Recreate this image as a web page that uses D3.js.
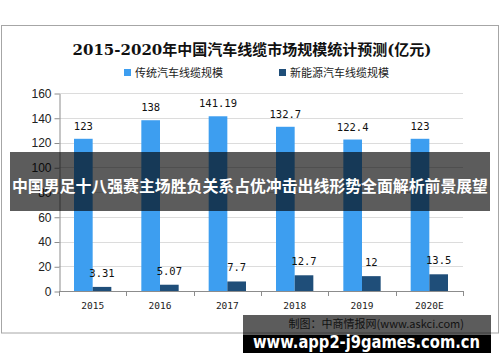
<!DOCTYPE html>
<html>
<head>
<meta charset="utf-8">
<script src="https://d3js.org/d3.v7.min.js"></script>
<style>
  body { margin: 0; background: #fff; }
  svg { display: block; }
  .axis path, .axis line { stroke: #8c8c8c; }
  .axis text { fill: #222; }
</style>
</head>
<body>
<script>
// data
var years = ["2015", "2016", "2017", "2018", "2019", "2020E"];
var traditional = [123, 138, 141.19, 132.7, 122.4, 123];
var newEnergy = [3.31, 5.07, 7.7, 12.7, 12, 13.5];
var seriesNames = ["传统汽车线缆规模", "新能源汽车线缆规模"];
var yTicks = [0, 20, 40, 60, 80, 100, 120, 140, 160];

var colors = ["#3d9ef0", "#1f4e79"];
var width = 500, height = 362;
var plotLeft = 59, plotRight = 463, plotTop = 93, plotBottom = 291;

var svg = d3.select("body").append("svg")
    .attr("width", width)
    .attr("height", height);

// outer frame
svg.append("rect")
    .attr("x", 1.5).attr("y", 25.5)
    .attr("width", 497).attr("height", 307.5)
    .attr("fill", "none").attr("stroke", "#a6a6a6");

// title
svg.append("text")
    .attr("x", 252).attr("y", 55)
    .attr("text-anchor", "middle")
    .style("font-family", "'DejaVu Serif', 'Noto Sans CJK SC', serif")
    .style("font-weight", "bold")
    .style("font-size", "15px")
    .attr("fill", "#111")
    .text("2015-2020年中国汽车线缆市场规模统计预测(亿元)");

// legend
var legendX = [124, 279];
seriesNames.forEach(function (name, i) {
    svg.append("rect")
        .attr("x", legendX[i]).attr("y", 69)
        .attr("width", 7).attr("height", 7)
        .attr("fill", colors[i]);
    svg.append("text")
        .attr("x", legendX[i] + 11).attr("y", 76.5)
        .style("font-family", "'Noto Sans CJK SC', sans-serif")
        .style("font-size", "11px")
        .attr("fill", "#222")
        .text(name);
});

var x = d3.scaleBand().domain(years).range([plotLeft, plotRight]);
var inner = d3.scaleBand().domain([0, 1]).range([15, x.bandwidth() - 15]);
var y = d3.scaleLinear().domain([0, 160]).range([plotBottom, plotTop]);

// gridlines
svg.append("g")
    .selectAll("line")
    .data(yTicks.filter(function (d) { return d > 0; }))
    .enter().append("line")
    .attr("x1", plotLeft).attr("x2", plotRight)
    .attr("y1", function (d) { return Math.round(y(d)) + 0.5; })
    .attr("y2", function (d) { return Math.round(y(d)) + 0.5; })
    .attr("stroke", "#dcdcdc");

// y axis
var yAxis = d3.axisLeft(y).tickValues(yTicks).tickSize(5).tickPadding(3).tickSizeOuter(0);
var gy = svg.append("g")
    .attr("class", "axis")
    .attr("transform", "translate(" + (plotLeft + 0.5) + ",0.5)")
    .call(yAxis);
gy.selectAll("text")
    .style("font-family", "'Liberation Sans', Arial, sans-serif")
    .style("font-size", "12px");

// x axis line and boundary ticks
var gx = svg.append("g").attr("class", "axis");
gx.append("line")
    .attr("x1", plotLeft).attr("x2", plotRight)
    .attr("y1", plotBottom + 0.5).attr("y2", plotBottom + 0.5);
gx.selectAll(".bt")
    .data(years.concat(["end"]))
    .enter().append("line")
    .attr("class", "bt")
    .attr("x1", function (d, i) { return Math.round(plotLeft + i * x.step()) + 0.5; })
    .attr("x2", function (d, i) { return Math.round(plotLeft + i * x.step()) + 0.5; })
    .attr("y1", plotBottom).attr("y2", plotBottom + 5);
gx.selectAll("text")
    .data(years)
    .enter().append("text")
    .attr("x", function (d) { return x(d) + x.bandwidth() / 2; })
    .attr("y", 309)
    .attr("text-anchor", "middle")
    .style("font-family", "'DejaVu Sans Mono', monospace")
    .style("font-size", "9.5px")
    .text(function (d) { return d; });

// bars
var series = [traditional, newEnergy];
series.forEach(function (vals, s) {
    var g = svg.append("g");
    g.selectAll("rect")
        .data(vals)
        .enter().append("rect")
        .attr("x", function (d, i) { return x(years[i]) + inner(s); })
        .attr("width", inner.bandwidth())
        .attr("y", function (d) { return y(d); })
        .attr("height", function (d) { return plotBottom - y(d); })
        .attr("fill", colors[s]);
    g.selectAll("text")
        .data(vals)
        .enter().append("text")
        .attr("x", function (d, i) { return x(years[i]) + inner(s) + inner.bandwidth() / 2; })
        .attr("y", function (d) { return y(d) - (s === 0 ? 9 : 10); })
        .attr("text-anchor", "middle")
        .style("font-family", "'DejaVu Sans Mono', monospace")
        .style("font-size", "10.5px")
        .attr("fill", "#111")
        .text(function (d) { return d; });
});

// overlay banner
svg.append("rect")
    .attr("x", 10).attr("y", 152)
    .attr("width", 480).attr("height", 59)
    .attr("fill", "rgba(0,0,0,0.64)");
svg.append("text")
    .attr("x", 250).attr("y", 192)
    .attr("text-anchor", "middle")
    .attr("textLength", 476)
    .attr("lengthAdjust", "spacingAndGlyphs")
    .style("font-family", "'Noto Sans CJK SC', sans-serif")
    .style("font-weight", "bold")
    .style("font-size", "16px")
    .attr("fill", "#fff")
    .text("中国男足十八强赛主场胜负关系占优冲击出线形势全面解析前景展望");

// bottom caption bands
svg.append("rect")
    .attr("x", 243).attr("y", 315)
    .attr("width", 248).attr("height", 21)
    .attr("fill", "rgba(0,0,0,0.64)");
svg.append("text")
    .attr("x", 464).attr("y", 328)
    .attr("text-anchor", "end")
    .style("font-family", "'Noto Sans CJK SC', sans-serif")
    .style("font-size", "11px")
    .attr("fill", "#111")
    .text("制图：中商情报网(www.askci.com)");
svg.append("rect")
    .attr("x", 243).attr("y", 335)
    .attr("width", 248).attr("height", 18)
    .attr("fill", "#000");
svg.append("text")
    .attr("x", 253).attr("y", 348)
    .attr("textLength", 227)
    .attr("lengthAdjust", "spacingAndGlyphs")
    .style("font-family", "'DejaVu Sans', sans-serif")
    .style("font-weight", "bold")
    .style("font-size", "17px")
    .attr("fill", "#fff")
    .text("www.app2-j9games.com.cn");
</script>
</body>
</html>
